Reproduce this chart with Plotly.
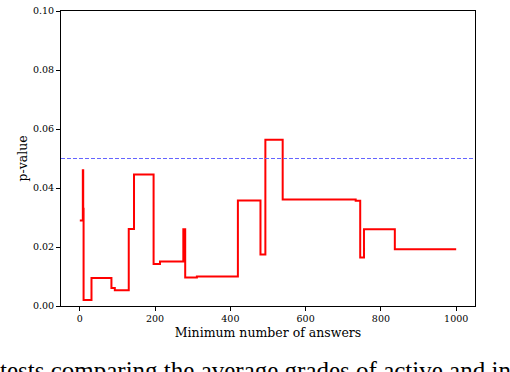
import plotly.graph_objs as go

# step starts (minimum number of answers) and p-values
min_answers = [0, 8, 9, 10, 31, 84, 93, 130, 144, 196, 213, 275, 280, 311,
               420, 480, 493, 539, 733, 745, 755, 837, 1000]
p_values = [0.029, 0.046, 0.033, 0.002, 0.0095, 0.0061, 0.0053, 0.0261,
            0.0446, 0.0142, 0.0151, 0.026, 0.0097, 0.0100, 0.0358, 0.0175,
            0.0564, 0.0361, 0.0357, 0.0164, 0.026, 0.0192, 0.0192]
threshold = 0.05
x_ticks = [0, 200, 400, 600, 800, 1000]
y_ticks = [0.00, 0.02, 0.04, 0.06, 0.08, 0.10]
caption = "tests comparing the average grades of active and inactive"

font_family = "DejaVu Serif"

trace = go.Scatter(
    x=min_answers,
    y=p_values,
    mode='lines',
    line=dict(color='red', width=2, shape='hv'),
    showlegend=False
)

layout = go.Layout(
    width=510,
    height=372,
    margin=dict(l=61, r=35, t=5, b=66),
    plot_bgcolor='white',
    paper_bgcolor='white',
    font=dict(family=font_family, color='black', size=9.5),
    xaxis=dict(
        range=[-50, 1050],
        tickvals=x_ticks,
        ticktext=[str(v) for v in x_ticks],
        ticks='outside', ticklen=4, tickwidth=1, tickcolor='black',
        showgrid=False, zeroline=False,
        showline=True, linecolor='black', linewidth=1, mirror=True,
        title=dict(text="Minimum number of answers", font=dict(size=12.5), standoff=4)
    ),
    yaxis=dict(
        range=[0, 0.10001],
        tickvals=y_ticks,
        ticktext=["%.2f" % v for v in y_ticks],
        ticklabeloverflow='allow',
        ticks='outside', ticklen=4, tickwidth=1, tickcolor='black',
        showgrid=False, zeroline=False,
        showline=True, linecolor='black', linewidth=1, mirror=True,
        title=dict(text="p-value", font=dict(size=12.5), standoff=2)
    ),
    shapes=[dict(
        type='line', xref='paper', x0=0, x1=1, yref='y', y0=threshold, y1=threshold,
        line=dict(color='rgb(100,100,255)', width=1, dash='4px,2px')
    )],
    annotations=[dict(
        text=caption, xref='paper', yref='paper', x=-0.152, y=-0.165,
        xanchor='left', yanchor='top', showarrow=False,
        font=dict(size=25, family="Liberation Serif")
    )]
)

fig = go.Figure(data=[trace], layout=layout)
fig.write_html("out.html", config={'displayModeBar': False},
               post_script="document.body.style.margin='0';")
